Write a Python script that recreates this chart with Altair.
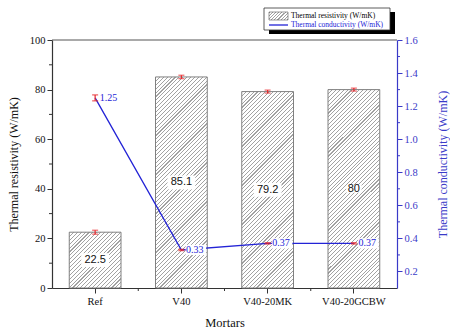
import altair as alt
import pandas as pd

# ---------------- data ----------------
mortars = ["Ref", "V40", "V40-20MK", "V40-20GCBW"]
resistivity = [22.5, 85.1, 79.2, 80.0]
resistivity_err = [0.8, 0.7, 0.6, 0.6]
resistivity_text = ["22.5", "85.1", "79.2", "80"]
conductivity = [1.25, 0.33, 0.37, 0.37]
conductivity_err = [0.018, 0.004, 0.004, 0.004]
conductivity_text = ["1.25", "0.33", "0.37", "0.37"]

res_major = [0, 20, 40, 60, 80, 100]
res_minor = [10, 30, 50, 70, 90]
cond_major = [0.2, 0.4, 0.6, 0.8, 1.0, 1.2, 1.4, 1.6]
cond_minor = [0.3, 0.5, 0.7, 0.9, 1.1, 1.3, 1.5]

# ---------------- layout / style ----------------
W, H = 345, 248
PAD_INNER, PAD_OUTER = 0.4, 0.2
STEP = W / (len(mortars) - PAD_INNER + 2 * PAD_OUTER)
BAND = STEP * (1 - PAD_INNER)

SERIF = "Liberation Serif"
SANS = "Liberation Sans"
BLUE = "#2323d6"
AXIS_BLUE = "#3a3ac8"
RED = "#e8262b"
HATCH = "#a2a2a2"
EDGE = "#808080"
AXIS = "#333333"


def hatch(w, h, spacing=3.9, line=1.1):
    """Diagonal '///' hatching as a hard-stop linear gradient over a w x h box."""
    total = w + h
    s = total / (w * w + h * h)
    stops = []
    c = 0.0
    while c < total:
        a = round(c / total, 5)
        b = round(min((c + line) / total, 1), 5)
        nxt = round(min((c + spacing) / total, 1), 5)
        stops += [
            {"offset": a, "color": HATCH},
            {"offset": b, "color": HATCH},
            {"offset": b, "color": "white"},
            {"offset": nxt, "color": "white"},
        ]
        c += spacing
    return {"gradient": "linear", "x1": 0, "y1": 0,
            "x2": round(w * s, 5), "y2": round(h * s, 5), "stops": stops}


df = pd.DataFrame({
    "mortar": mortars,
    "res": resistivity,
    "res_err": resistivity_err,
    "res_text": resistivity_text,
    "cond": conductivity,
    "cond_err": conductivity_err,
    "cond_text": conductivity_text,
})

x_enc = alt.X(
    "mortar:N", sort=mortars,
    scale=alt.Scale(domain=mortars, paddingInner=PAD_INNER, paddingOuter=PAD_OUTER),
    axis=alt.Axis(
        title="Mortars", labelAngle=0, labelFont=SERIF, labelFontSize=10.5,
        labelFontWeight="normal", labelColor="#111111", labelPadding=3,
        tickSize=5, tickColor=AXIS, tickWidth=1,
        domainColor=AXIS, domainWidth=1.2, grid=False,
        titleFont=SERIF, titleFontSize=12.5, titleFontWeight="normal",
        titleColor="#111111", titleY=34, titleBaseline="middle",
    ),
)

res_scale = alt.Scale(domain=[0, 100], nice=False, zero=True)
res_axis = alt.Axis(
    title="Thermal resistivity (W/mK)", values=res_major, format="d",
    labelFont=SERIF, labelFontSize=10.5, labelFontWeight="normal",
    labelColor="#111111", labelPadding=2,
    tickSize=5, tickColor=AXIS, tickWidth=1, domainColor=AXIS, domainWidth=1.2,
    grid=False, titleFont=SERIF, titleFontSize=12, titleFontWeight="normal",
    titleColor="#111111", titleAngle=270, titleX=-39, titleY=H / 2,
    titleAlign="center", titleBaseline="middle",
)

cond_scale = alt.Scale(domain=[0.1, 1.6], nice=False, zero=False)
cond_axis = alt.Axis(
    title="Thermal conductivity (W/mK)", orient="right", values=cond_major,
    format=".1f", labelFont=SERIF, labelFontSize=10.5, labelFontWeight="normal",
    labelColor=AXIS_BLUE, labelPadding=2, tickSize=5, tickColor=AXIS_BLUE,
    tickWidth=1, domainColor=AXIS_BLUE, domainWidth=1.2, grid=False,
    titleFont=SERIF, titleFontSize=12, titleFontWeight="normal",
    titleColor=AXIS_BLUE, titleAngle=270, titleX=45, titleY=H / 2,
    titleAlign="center", titleBaseline="middle",
)


def y_left(field):
    return alt.Y(f"{field}:Q", scale=res_scale, axis=res_axis)


def y_right(field):
    return alt.Y(f"{field}:Q", scale=cond_scale, axis=cond_axis)


base = alt.Chart(df)

# ---------- resistivity: hatched bars ----------
bars = []
for m, v in zip(mortars, resistivity):
    bars.append(
        base.transform_filter(alt.datum.mortar == m)
        .mark_bar(fill=hatch(BAND, v * H / 100), stroke=EDGE, strokeWidth=1)
        .encode(x=x_enc, y=y_left("res"))
    )

res_err = base.transform_calculate(
    lo="datum.res - datum.res_err", hi="datum.res + datum.res_err"
)
res_err_rule = res_err.mark_rule(color=RED, strokeWidth=1.2).encode(
    x=x_enc, y=y_left("lo"), y2="hi:Q")
res_cap_lo = res_err.mark_tick(color=RED, size=6, thickness=1.2).encode(
    x=x_enc, y=y_left("lo"))
res_cap_hi = res_err.mark_tick(color=RED, size=6, thickness=1.2).encode(
    x=x_enc, y=y_left("hi"))

res_mid = base.transform_calculate(
    mid="datum.res / 2",
    box="pow(length(datum.res_text) * 6.2 + 3, 2)",
)
res_label_box = res_mid.mark_point(
    shape="M-1,-0.5L1,-0.5L1,0.5L-1,0.5Z", filled=True, fill="white",
    opacity=1, strokeWidth=0,
).encode(x=x_enc, y=y_left("mid"), size=alt.Size("box:Q", scale=None, legend=None))
res_label = res_mid.mark_text(
    font=SANS, fontSize=11, color="#111111", baseline="middle", align="center"
).encode(x=x_enc, y=y_left("mid"), text="res_text:N")

res_minor_ticks = alt.Chart(pd.DataFrame({"res": res_minor})).mark_rule(
    color=AXIS, strokeWidth=1
).encode(x=alt.value(-3), x2=alt.value(0), y=y_left("res"))

x_minor_ticks = alt.Chart(pd.DataFrame({"mortar": mortars[:-1]})).mark_rule(
    color=AXIS, strokeWidth=1, xOffset=STEP / 2
).encode(x=x_enc, y=alt.value(H), y2=alt.value(H + 3))

left = alt.layer(*bars, res_err_rule, res_cap_lo, res_cap_hi,
                 res_label_box, res_label, res_minor_ticks, x_minor_ticks)

# ---------- conductivity: line with error bars ----------
cond_line = base.mark_line(color=BLUE, strokeWidth=1.3).encode(
    x=x_enc, y=y_right("cond"))

cond_err = base.transform_calculate(
    lo="datum.cond - datum.cond_err", hi="datum.cond + datum.cond_err"
)
cond_err_rule = cond_err.mark_rule(color=RED, strokeWidth=1.2).encode(
    x=x_enc, y=y_right("lo"), y2="hi:Q")
cond_cap_lo = cond_err.mark_tick(color=RED, size=6, thickness=1.3).encode(
    x=x_enc, y=y_right("lo"))
cond_cap_hi = cond_err.mark_tick(color=RED, size=6, thickness=1.3).encode(
    x=x_enc, y=y_right("hi"))

cond_label_box = base.mark_point(
    shape="M-1,-0.5L1,-0.5L1,0.5L-1,0.5Z", filled=True, fill="white",
    opacity=1, strokeWidth=0, size=420, xOffset=14.5,
).encode(x=x_enc, y=y_right("cond"))
cond_label = base.mark_text(
    font=SERIF, fontSize=10, color=BLUE, align="left", baseline="middle", dx=4.5
).encode(x=x_enc, y=y_right("cond"), text="cond_text:N")

cond_minor_ticks = alt.Chart(pd.DataFrame({"cond": cond_minor})).mark_rule(
    color=AXIS_BLUE, strokeWidth=1
).encode(x=alt.value(W), x2=alt.value(W + 3), y=y_right("cond"))

right = alt.layer(cond_line, cond_err_rule, cond_cap_lo, cond_cap_hi,
                  cond_label_box, cond_label, cond_minor_ticks)

# ---------- frame and legend ----------
one = pd.DataFrame({"k": [0]})
top_frame = alt.Chart(one).mark_rule(color="#555555", strokeWidth=1).encode(
    x=alt.value(0), x2=alt.value(W), y=alt.value(0))

LX0, LX1, LY0, LY1 = 212, 338, -32, -10
legend_shadow = alt.Chart(one).mark_rect(color="black").encode(
    x=alt.value(LX0 + 5), x2=alt.value(LX1 + 5),
    y=alt.value(LY0 + 4), y2=alt.value(LY1 + 4))
legend_box = alt.Chart(one).mark_rect(fill="white", stroke="#333333", strokeWidth=0.8).encode(
    x=alt.value(LX0), x2=alt.value(LX1), y=alt.value(LY0), y2=alt.value(LY1))
legend_swatch = alt.Chart(one).mark_rect(
    fill=hatch(19, 8, spacing=3.2, line=1.1), stroke="#555555", strokeWidth=0.6
).encode(x=alt.value(LX0 + 5), x2=alt.value(LX0 + 24),
         y=alt.value(LY0 + 4), y2=alt.value(LY0 + 12))
legend_line = alt.Chart(one).mark_rule(color=BLUE, strokeWidth=1.3).encode(
    x=alt.value(LX0 + 5), x2=alt.value(LX0 + 24), y=alt.value(LY0 + 17))
legend_text_1 = alt.Chart(one).mark_text(
    font=SERIF, fontSize=7.5, color="black", align="left", baseline="middle"
).encode(x=alt.value(LX0 + 27), y=alt.value(LY0 + 8),
         text=alt.value("Thermal resistivity (W/mK)"))
legend_text_2 = alt.Chart(one).mark_text(
    font=SERIF, fontSize=7.5, color=BLUE, align="left", baseline="middle"
).encode(x=alt.value(LX0 + 27), y=alt.value(LY0 + 17),
         text=alt.value("Thermal conductivity (W/mK)"))

deco = alt.layer(top_frame, legend_shadow, legend_box, legend_swatch,
                 legend_line, legend_text_1, legend_text_2)

chart = (
    alt.layer(left, right, deco)
    .resolve_scale(y="independent")
    .properties(
        width=W, height=H,
        autosize=alt.AutoSizeParams(type="none"),
        padding={"left": 52, "top": 40, "right": 53, "bottom": 43},
        background="white",
    )
    .configure_view(stroke=None)
)

chart.save("out.html", embed_options={"renderer": "svg", "actions": False})
